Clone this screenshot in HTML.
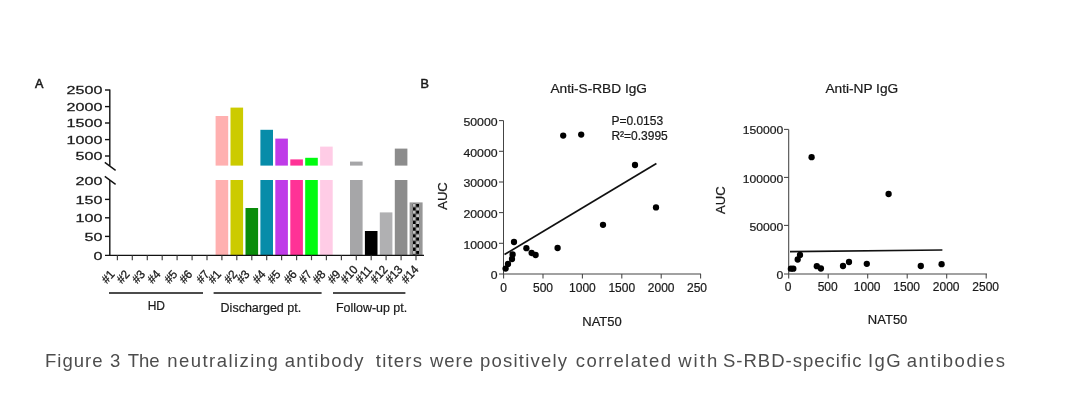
<!DOCTYPE html>
<html lang="en"><head><meta charset="utf-8"><title>Figure 3</title>
<style>
html,body{margin:0;padding:0;background:#fff;}
body{width:1065px;height:415px;overflow:hidden;position:relative;}
svg{position:absolute;left:0;top:0;display:block;}
text{font-family:"Liberation Sans", sans-serif;fill:#1a1a1a;}
.cap{position:absolute;left:0;top:0;width:1065px;height:415px;font-family:"Liberation Sans", sans-serif;color:#4d4d4d;}
.cap span{position:absolute;white-space:nowrap;}
</style></head><body>
<svg width="1065" height="415" viewBox="0 0 1065 415">
<defs><pattern id="chk" x="412.6" y="203.8" width="6.5" height="6.73" patternUnits="userSpaceOnUse"><rect x="0" y="0" width="6.5" height="6.73" fill="#c2c2c2"/><rect x="3.25" y="0" width="3.25" height="3.365" fill="#000"/><rect x="0" y="3.365" width="3.25" height="3.365" fill="#000"/></pattern></defs>
<g id="panelA">
<text x="35.1" y="87.6" font-size="12.6" stroke="#1a1a1a" stroke-width="0.55">A</text>
<rect x="215.6" y="116.0" width="12.6" height="49.6" fill="#ffb0b0"/>
<rect x="215.6" y="180.0" width="12.6" height="75.0" fill="#ffb0b0"/>
<rect x="230.5" y="107.6" width="12.6" height="58.0" fill="#cccb00"/>
<rect x="230.5" y="180.0" width="12.6" height="75.0" fill="#cccb00"/>
<rect x="245.5" y="208.0" width="12.6" height="47.0" fill="#0a8c0a"/>
<rect x="260.4" y="129.8" width="12.6" height="35.8" fill="#078ca9"/>
<rect x="260.4" y="180.0" width="12.6" height="75.0" fill="#078ca9"/>
<rect x="275.3" y="138.6" width="12.6" height="27.0" fill="#bf3be8"/>
<rect x="275.3" y="180.0" width="12.6" height="75.0" fill="#bf3be8"/>
<rect x="290.3" y="159.4" width="12.6" height="6.2" fill="#ff3296"/>
<rect x="290.3" y="180.0" width="12.6" height="75.0" fill="#ff3296"/>
<rect x="305.2" y="157.8" width="12.6" height="7.8" fill="#00fb10"/>
<rect x="305.2" y="180.0" width="12.6" height="75.0" fill="#00fb10"/>
<rect x="320.1" y="146.6" width="12.6" height="19.0" fill="#ffcce6"/>
<rect x="320.1" y="180.0" width="12.6" height="75.0" fill="#ffcce6"/>
<rect x="350.0" y="161.6" width="12.6" height="4.0" fill="#a6a6a8"/>
<rect x="350.0" y="180.0" width="12.6" height="75.0" fill="#a6a6a8"/>
<rect x="364.9" y="231.0" width="12.6" height="24.0" fill="#000000"/>
<rect x="379.8" y="212.4" width="12.6" height="42.6" fill="#b0b0b2"/>
<rect x="394.8" y="148.6" width="12.6" height="17.0" fill="#8c8c8c"/>
<rect x="394.8" y="180.0" width="12.6" height="75.0" fill="#8c8c8c"/>
<rect x="409.6" y="202.4" width="13.0" height="52.6" fill="#979797"/>
<rect x="412.6" y="203.8" width="6.5" height="51.2" fill="url(#chk)"/>
<g stroke="#111" stroke-width="1.4" fill="none" stroke-linecap="butt">
<path d="M109.8 89.4V165.8"/>
<path d="M109.8 180V255.4"/>
<path d="M104.8 162.4L115.6 170.4"/>
<path d="M104.8 176.4L115.6 184.4"/>
<path d="M105 255.4H424"/>
<path d="M105 90.0H109.8"/>
<path d="M105 106.6H109.8"/>
<path d="M105 123.0H109.8"/>
<path d="M105 139.6H109.8"/>
<path d="M105 156.0H109.8"/>
<path d="M105 199.4H109.8"/>
<path d="M105 217.8H109.8"/>
<path d="M105 236.4H109.8"/>
<path d="M117.4 255.4V260.2" stroke-width="1.2" stroke="#444"/>
<path d="M132.3 255.4V260.2" stroke-width="1.2" stroke="#444"/>
<path d="M147.3 255.4V260.2" stroke-width="1.2" stroke="#444"/>
<path d="M162.2 255.4V260.2" stroke-width="1.2" stroke="#444"/>
<path d="M177.1 255.4V260.2" stroke-width="1.2" stroke="#444"/>
<path d="M192.1 255.4V260.2" stroke-width="1.2" stroke="#444"/>
<path d="M207.0 255.4V260.2" stroke-width="1.2" stroke="#444"/>
<path d="M221.9 255.4V260.2" stroke-width="1.2" stroke="#444"/>
<path d="M236.8 255.4V260.2" stroke-width="1.2" stroke="#444"/>
<path d="M251.8 255.4V260.2" stroke-width="1.2" stroke="#444"/>
<path d="M266.7 255.4V260.2" stroke-width="1.2" stroke="#444"/>
<path d="M281.6 255.4V260.2" stroke-width="1.2" stroke="#444"/>
<path d="M296.6 255.4V260.2" stroke-width="1.2" stroke="#444"/>
<path d="M311.5 255.4V260.2" stroke-width="1.2" stroke="#444"/>
<path d="M326.4 255.4V260.2" stroke-width="1.2" stroke="#444"/>
<path d="M341.4 255.4V260.2" stroke-width="1.2" stroke="#444"/>
<path d="M356.3 255.4V260.2" stroke-width="1.2" stroke="#444"/>
<path d="M371.2 255.4V260.2" stroke-width="1.2" stroke="#444"/>
<path d="M386.1 255.4V260.2" stroke-width="1.2" stroke="#444"/>
<path d="M401.1 255.4V260.2" stroke-width="1.2" stroke="#444"/>
<path d="M416.0 255.4V260.2" stroke-width="1.2" stroke="#444"/>
<path d="M109 293H203" stroke-width="1.5"/>
<path d="M213.6 293H321.6" stroke-width="1.5"/>
<path d="M333 293H405.4" stroke-width="1.5"/>
</g>
<text transform="translate(102.4 94.2) scale(1.40 1)" text-anchor="end" font-size="11.5" stroke="#1a1a1a" stroke-width="0.25">2500</text>
<text transform="translate(102.4 110.8) scale(1.40 1)" text-anchor="end" font-size="11.5" stroke="#1a1a1a" stroke-width="0.25">2000</text>
<text transform="translate(102.4 127.2) scale(1.40 1)" text-anchor="end" font-size="11.5" stroke="#1a1a1a" stroke-width="0.25">1500</text>
<text transform="translate(102.4 143.8) scale(1.40 1)" text-anchor="end" font-size="11.5" stroke="#1a1a1a" stroke-width="0.25">1000</text>
<text transform="translate(102.4 160.2) scale(1.40 1)" text-anchor="end" font-size="11.5" stroke="#1a1a1a" stroke-width="0.25">500</text>
<text transform="translate(102.4 185.2) scale(1.40 1)" text-anchor="end" font-size="11.5" stroke="#1a1a1a" stroke-width="0.25">200</text>
<text transform="translate(102.4 203.6) scale(1.40 1)" text-anchor="end" font-size="11.5" stroke="#1a1a1a" stroke-width="0.25">150</text>
<text transform="translate(102.4 222.0) scale(1.40 1)" text-anchor="end" font-size="11.5" stroke="#1a1a1a" stroke-width="0.25">100</text>
<text transform="translate(102.4 240.6) scale(1.40 1)" text-anchor="end" font-size="11.5" stroke="#1a1a1a" stroke-width="0.25">50</text>
<text transform="translate(102.4 259.6) scale(1.40 1)" text-anchor="end" font-size="11.5" stroke="#1a1a1a" stroke-width="0.25">0</text>
<text transform="translate(106.8 284.2) rotate(-48) scale(0.96 1)" font-size="12" stroke="#1a1a1a" stroke-width="0.3">#1</text>
<text transform="translate(121.7 284.2) rotate(-48) scale(0.96 1)" font-size="12" stroke="#1a1a1a" stroke-width="0.3">#2</text>
<text transform="translate(137.2 284.2) rotate(-48) scale(0.96 1)" font-size="12" stroke="#1a1a1a" stroke-width="0.3">#3</text>
<text transform="translate(152.6 284.2) rotate(-48) scale(0.96 1)" font-size="12" stroke="#1a1a1a" stroke-width="0.3">#4</text>
<text transform="translate(169.5 284.2) rotate(-48) scale(0.96 1)" font-size="12" stroke="#1a1a1a" stroke-width="0.3">#5</text>
<text transform="translate(184.5 284.2) rotate(-48) scale(0.96 1)" font-size="12" stroke="#1a1a1a" stroke-width="0.3">#6</text>
<text transform="translate(201.4 284.2) rotate(-48) scale(0.96 1)" font-size="12" stroke="#1a1a1a" stroke-width="0.3">#7</text>
<text transform="translate(213.3 284.2) rotate(-48) scale(0.96 1)" font-size="12" stroke="#1a1a1a" stroke-width="0.3">#1</text>
<text transform="translate(229.2 284.2) rotate(-48) scale(0.96 1)" font-size="12" stroke="#1a1a1a" stroke-width="0.3">#2</text>
<text transform="translate(241.8 284.2) rotate(-48) scale(0.96 1)" font-size="12" stroke="#1a1a1a" stroke-width="0.3">#3</text>
<text transform="translate(257.7 284.2) rotate(-48) scale(0.96 1)" font-size="12" stroke="#1a1a1a" stroke-width="0.3">#4</text>
<text transform="translate(272.6 284.2) rotate(-48) scale(0.96 1)" font-size="12" stroke="#1a1a1a" stroke-width="0.3">#5</text>
<text transform="translate(289.0 284.2) rotate(-48) scale(0.96 1)" font-size="12" stroke="#1a1a1a" stroke-width="0.3">#6</text>
<text transform="translate(303.9 284.2) rotate(-48) scale(0.96 1)" font-size="12" stroke="#1a1a1a" stroke-width="0.3">#7</text>
<text transform="translate(317.8 284.2) rotate(-48) scale(0.96 1)" font-size="12" stroke="#1a1a1a" stroke-width="0.3">#8</text>
<text transform="translate(332.8 284.2) rotate(-48) scale(0.96 1)" font-size="12" stroke="#1a1a1a" stroke-width="0.3">#9</text>
<text transform="translate(345.7 284.2) rotate(-48) scale(0.96 1)" font-size="12" stroke="#1a1a1a" stroke-width="0.3">#10</text>
<text transform="translate(360.6 284.2) rotate(-48) scale(0.96 1)" font-size="12" stroke="#1a1a1a" stroke-width="0.3">#11</text>
<text transform="translate(375.5 284.2) rotate(-48) scale(0.96 1)" font-size="12" stroke="#1a1a1a" stroke-width="0.3">#12</text>
<text transform="translate(390.5 284.2) rotate(-48) scale(0.96 1)" font-size="12" stroke="#1a1a1a" stroke-width="0.3">#13</text>
<text transform="translate(406.4 284.2) rotate(-48) scale(0.96 1)" font-size="12" stroke="#1a1a1a" stroke-width="0.3">#14</text>
<text x="156.3" y="310.2" text-anchor="middle" font-size="12" stroke="#1a1a1a" stroke-width="0.2">HD</text>
<text x="220.6" y="312" font-size="12.4" textLength="80.6" lengthAdjust="spacingAndGlyphs" stroke="#1a1a1a" stroke-width="0.2">Discharged pt.</text>
<text x="336" y="312" font-size="12.4" textLength="71.2" lengthAdjust="spacingAndGlyphs" stroke="#1a1a1a" stroke-width="0.2">Follow-up pt.</text>
</g>
<g id="panelB1" stroke="#1a1a1a" stroke-width="0.22">
<text x="420.6" y="87.6" font-size="12.6" stroke="#1a1a1a" stroke-width="0.55">B</text>
<text x="550.4" y="92.6" font-size="13.7">Anti-S-RBD IgG</text>
<g stroke="#444" stroke-width="1.05" fill="none">
<path d="M503.5 120.6V274"/>
<path d="M499 274H701"/>
<path d="M499 120.6H503.5"/>
<path d="M499 151.3H503.5"/>
<path d="M499 182.0H503.5"/>
<path d="M499 212.6H503.5"/>
<path d="M499 243.3H503.5"/>
<path d="M503.6 274V278.4"/>
<path d="M543.0 274V278.4"/>
<path d="M582.4 274V278.4"/>
<path d="M621.8 274V278.4"/>
<path d="M661.2 274V278.4"/>
<path d="M700.6 274V278.4"/>
</g>
<text x="463.4" y="125.9" font-size="11.7" textLength="34.2" lengthAdjust="spacingAndGlyphs">50000</text>
<text x="463.4" y="156.6" font-size="11.7" textLength="34.2" lengthAdjust="spacingAndGlyphs">40000</text>
<text x="463.4" y="187.3" font-size="11.7" textLength="34.2" lengthAdjust="spacingAndGlyphs">30000</text>
<text x="463.4" y="217.9" font-size="11.7" textLength="34.2" lengthAdjust="spacingAndGlyphs">20000</text>
<text x="463.4" y="248.6" font-size="11.7" textLength="34.2" lengthAdjust="spacingAndGlyphs">10000</text>
<text x="490.8" y="279.3" font-size="11.7" textLength="6.8" lengthAdjust="spacingAndGlyphs">0</text>
<text x="503.6" y="292" text-anchor="middle" font-size="12">0</text>
<text x="543.0" y="292" text-anchor="middle" font-size="12">500</text>
<text x="582.4" y="292" text-anchor="middle" font-size="12">1000</text>
<text x="621.8" y="292" text-anchor="middle" font-size="12">1500</text>
<text x="661.2" y="292" text-anchor="middle" font-size="12">2000</text>
<text x="687" y="292" font-size="12">250</text>
<text transform="translate(447.4 196) rotate(-90)" text-anchor="middle" font-size="13">AUC</text>
<text x="602" y="326" text-anchor="middle" font-size="13">NAT50</text>
<text x="611.4" y="124.6" font-size="12">P=0.0153</text>
<text x="611.4" y="139.6" font-size="12">R²=0.3995</text>
<path d="M504.5 254.6L656.4 163.4" stroke="#111" stroke-width="1.7" fill="none"/>
<circle cx="505.6" cy="268.6" r="3.15" fill="#000" stroke="none"/>
<circle cx="508.0" cy="264.0" r="3.15" fill="#000" stroke="none"/>
<circle cx="512.0" cy="259.0" r="3.15" fill="#000" stroke="none"/>
<circle cx="512.6" cy="254.4" r="3.15" fill="#000" stroke="none"/>
<circle cx="514.0" cy="242.0" r="3.15" fill="#000" stroke="none"/>
<circle cx="526.4" cy="248.2" r="3.15" fill="#000" stroke="none"/>
<circle cx="531.6" cy="253.0" r="3.15" fill="#000" stroke="none"/>
<circle cx="535.6" cy="255.0" r="3.15" fill="#000" stroke="none"/>
<circle cx="557.6" cy="248.0" r="3.15" fill="#000" stroke="none"/>
<circle cx="603.0" cy="224.8" r="3.15" fill="#000" stroke="none"/>
<circle cx="656.0" cy="207.4" r="3.15" fill="#000" stroke="none"/>
<circle cx="563.2" cy="135.6" r="3.15" fill="#000" stroke="none"/>
<circle cx="581.2" cy="134.6" r="3.15" fill="#000" stroke="none"/>
<circle cx="635.0" cy="165.0" r="3.15" fill="#000" stroke="none"/>
</g>
<g id="panelB2" stroke="#1a1a1a" stroke-width="0.22">
<text x="825.4" y="92.6" font-size="13.7">Anti-NP IgG</text>
<g stroke="#444" stroke-width="1.05" fill="none">
<path d="M788.7 129.4V274"/>
<path d="M784 274H987"/>
<path d="M784 129.4H788.7"/>
<path d="M784 177.4H788.7"/>
<path d="M784 225.4H788.7"/>
<path d="M788.7 274V278.4"/>
<path d="M828.2 274V278.4"/>
<path d="M867.7 274V278.4"/>
<path d="M907.2 274V278.4"/>
<path d="M946.7 274V278.4"/>
<path d="M986.2 274V278.4"/>
</g>
<text x="742.7" y="134.4" font-size="11.7" textLength="40.5" lengthAdjust="spacingAndGlyphs">150000</text>
<text x="742.7" y="182.5" font-size="11.7" textLength="40.5" lengthAdjust="spacingAndGlyphs">100000</text>
<text x="749.5" y="230.6" font-size="11.7" textLength="33.8" lengthAdjust="spacingAndGlyphs">50000</text>
<text x="776.5" y="278.7" font-size="11.7" textLength="6.8" lengthAdjust="spacingAndGlyphs">0</text>
<text x="788.2" y="290.6" text-anchor="middle" font-size="12">0</text>
<text x="827.7" y="290.6" text-anchor="middle" font-size="12">500</text>
<text x="867.2" y="290.6" text-anchor="middle" font-size="12">1000</text>
<text x="906.7" y="290.6" text-anchor="middle" font-size="12">1500</text>
<text x="946.2" y="290.6" text-anchor="middle" font-size="12">2000</text>
<text x="985.7" y="290.6" text-anchor="middle" font-size="12">2500</text>
<text transform="translate(725.2 200.2) rotate(-90)" text-anchor="middle" font-size="13">AUC</text>
<text x="887.6" y="324" text-anchor="middle" font-size="13">NAT50</text>
<path d="M790 251.6L942.4 250" stroke="#111" stroke-width="1.7" fill="none"/>
<circle cx="790.9" cy="268.7" r="3.15" fill="#000" stroke="none"/>
<circle cx="793.3" cy="268.7" r="3.15" fill="#000" stroke="none"/>
<circle cx="797.7" cy="259.5" r="3.15" fill="#000" stroke="none"/>
<circle cx="800.0" cy="254.9" r="3.15" fill="#000" stroke="none"/>
<circle cx="816.8" cy="266.2" r="3.15" fill="#000" stroke="none"/>
<circle cx="820.9" cy="268.5" r="3.15" fill="#000" stroke="none"/>
<circle cx="843.0" cy="266.0" r="3.15" fill="#000" stroke="none"/>
<circle cx="849.0" cy="262.0" r="3.15" fill="#000" stroke="none"/>
<circle cx="866.8" cy="263.8" r="3.15" fill="#000" stroke="none"/>
<circle cx="920.8" cy="266.0" r="3.15" fill="#000" stroke="none"/>
<circle cx="941.6" cy="264.2" r="3.15" fill="#000" stroke="none"/>
<circle cx="811.6" cy="157.2" r="3.15" fill="#000" stroke="none"/>
<circle cx="888.6" cy="194.0" r="3.15" fill="#000" stroke="none"/>
</g>
</svg>
<div class="cap">
<span style="left:45.00px;top:348.5px;font-size:18.5px;line-height:24px;letter-spacing:1.02px;">Figure</span> 
<span style="left:110.00px;top:348.5px;font-size:18.5px;line-height:24px;letter-spacing:1.00px;">3</span> 
<span style="left:127.80px;top:348.5px;font-size:18.5px;line-height:24px;letter-spacing:-0.10px;">The</span> 
<span style="left:167.20px;top:348.5px;font-size:18.5px;line-height:24px;letter-spacing:1.46px;">neutralizing</span> 
<span style="left:284.80px;top:348.5px;font-size:18.5px;line-height:24px;letter-spacing:1.26px;">antibody</span> 
<span style="left:375.80px;top:348.5px;font-size:18.5px;line-height:24px;letter-spacing:1.20px;">titers</span> 
<span style="left:430.00px;top:348.5px;font-size:18.5px;line-height:24px;letter-spacing:0.97px;">were</span> 
<span style="left:480.00px;top:348.5px;font-size:18.5px;line-height:24px;letter-spacing:1.21px;">positively</span> 
<span style="left:575.80px;top:348.5px;font-size:18.5px;line-height:24px;letter-spacing:1.43px;">correlated</span> 
<span style="left:678.20px;top:348.5px;font-size:18.5px;line-height:24px;letter-spacing:2.03px;">with</span> 
<span style="left:723.00px;top:348.5px;font-size:18.5px;line-height:24px;letter-spacing:1.00px;">S-RBD-specific</span> 
<span style="left:868.00px;top:348.5px;font-size:18.5px;line-height:24px;letter-spacing:1.45px;">IgG</span> 
<span style="left:906.80px;top:348.5px;font-size:18.5px;line-height:24px;letter-spacing:1.53px;">antibodies</span> 
</div>
</body></html>
